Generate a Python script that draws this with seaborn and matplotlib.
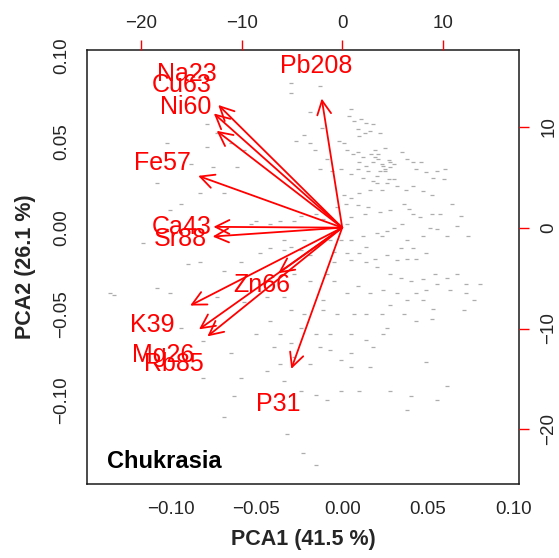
import numpy as np
import matplotlib
matplotlib.use('Agg')
import matplotlib.pyplot as plt
import seaborn as sns

#### DATA

# sample scores (PCA1, PCA2)
pc1 = [-0.030, -0.013, -0.030, -0.012, -0.019, 0.005, 0.004, 0.007, 0.011, 0.014,
       0.018, 0.009, 0.013, 0.016, 0.022, 0.010, -0.027, -0.022, -0.019, -0.016,
       -0.009, -0.002, 0.001, 0.003, 0.006, 0.009, 0.012, 0.019, 0.021, 0.025,
       0.010, 0.014, 0.018, 0.023, 0.028, 0.035, 0.038, 0.041, 0.046, 0.043,
       0.049, 0.055, 0.060, 0.053, 0.059, -0.013, -0.006, -0.001, 0.005, 0.009,
       0.012, 0.015, 0.020, 0.025, 0.028, 0.030, 0.026, 0.020, 0.018, 0.023,
       0.027, 0.032, 0.037, 0.041, 0.047, 0.052, 0.016, 0.010, 0.005, 0.001,
       -0.003, 0.002, 0.009, 0.015, 0.022, 0.028, 0.036, 0.039, 0.041, 0.045,
       0.052, 0.057, 0.064, 0.069, 0.067, 0.073, 0.051, 0.055, 0.061, 0.047,
       0.038, 0.035, 0.030, 0.026, 0.020, 0.013, 0.005, 0.003, -0.011, -0.015,
       -0.024, -0.028, -0.036, -0.042, -0.053, -0.050, -0.034, -0.022, -0.030, -0.007,
       -0.001, 0.005, 0.012, 0.014, 0.023, 0.034, 0.041, 0.043, 0.049, 0.038,
       0.032, 0.026, 0.019, 0.010, 0.003, -0.005, -0.019, -0.024, -0.034, -0.042,
       -0.048, -0.005, 0.005, 0.014, 0.020, 0.028, 0.034, 0.040, 0.047, 0.054,
       0.061, 0.067, 0.072, 0.080, 0.072, 0.077, 0.071, 0.055, 0.063, 0.049,
       0.043, 0.038, 0.032, 0.028, 0.053, 0.047, 0.024, 0.016, 0.009, 0.003,
       -0.005, -0.009, -0.011, -0.019, -0.028, -0.034, -0.042, -0.048, -0.044, -0.034,
       -0.030, -0.022, -0.011, -0.003, 0.007, 0.014, 0.023, 0.026, 0.036, 0.043,
       0.052, 0.024, 0.014, 0.005, -0.007, -0.015, -0.024, -0.036, -0.042, -0.050,
       -0.040, -0.030, -0.013, -0.007, 0.005, 0.018, 0.016, 0.005, -0.001, -0.019,
       -0.028, -0.036, -0.044, -0.034, -0.024, -0.015, -0.009, -0.001, 0.010, 0.028,
       0.040, 0.049, 0.061, 0.055, 0.038,
       -0.079, -0.073, -0.065, -0.057, -0.079, -0.102, -0.088, -0.075, -0.061, -0.108,
       -0.094, -0.100, -0.083, -0.069,
       -0.116, -0.090, -0.083, -0.069, -0.059, -0.135, -0.133, -0.108, -0.100, -0.073,
       -0.057, -0.094, -0.081, -0.065, -0.059, -0.063, -0.069, -0.081, -0.032, -0.023,
       -0.015,
       0.021, 0.024, 0.027, 0.019, 0.025, 0.030, 0.017, 0.022]
pc2 = [0.084, 0.082, 0.078, 0.058, 0.067, 0.069, 0.065, 0.062, 0.063, 0.061,
       0.060, 0.057, 0.055, 0.056, 0.055, 0.053, 0.050, 0.054, 0.049, 0.045,
       0.040, 0.050, 0.049, 0.045, 0.043, 0.044, 0.041, 0.045, 0.043, 0.046,
       0.038, 0.036, 0.038, 0.037, 0.038, 0.044, 0.040, 0.038, 0.038, 0.034,
       0.032, 0.033, 0.034, 0.029, 0.028, 0.034, 0.033, 0.034, 0.031, 0.034,
       0.029, 0.033, 0.030, 0.033, 0.035, 0.028, 0.026, 0.026, 0.027, 0.022,
       0.028, 0.024, 0.022, 0.024, 0.021, 0.019, 0.022, 0.020, 0.017, 0.019,
       0.012, 0.014, 0.013, 0.012, 0.009, 0.010, 0.014, 0.011, 0.008, 0.006,
       0.008, 0.008, 0.014, 0.007, 0.001, -0.005, 0.000, -0.001, -0.005, -0.005,
       -0.007, 0.002, 0.000, -0.002, -0.003, 0.008, 0.006, 0.002, 0.005, 0.008,
       0.007, 0.004, 0.004, 0.002, 0.002, 0.004, -0.007, -0.007, -0.011, -0.007,
       -0.007, -0.007, -0.005, -0.011, -0.005, -0.012, -0.012, -0.018, -0.015, -0.018,
       -0.019, -0.016, -0.018, -0.015, -0.015, -0.014, -0.016, -0.013, -0.013, -0.012,
       -0.015, -0.020, -0.019, -0.020, -0.023, -0.027, -0.029, -0.031, -0.030, -0.027,
       -0.029, -0.027, -0.033, -0.033, -0.038, -0.042, -0.048, -0.033, -0.036, -0.036,
       -0.038, -0.042, -0.038, -0.045, -0.047, -0.042, -0.036, -0.038, -0.034, -0.038,
       -0.031, -0.027, -0.042, -0.031, -0.027, -0.031, -0.029, -0.033, -0.040, -0.040,
       -0.048, -0.050, -0.048, -0.050, -0.050, -0.050, -0.050, -0.058, -0.050, -0.054,
       -0.053, -0.062, -0.065, -0.062, -0.062, -0.062, -0.058, -0.062, -0.054, -0.062,
       -0.069, -0.067, -0.069, -0.071, -0.073, -0.069, -0.081, -0.081, -0.077, -0.079,
       -0.075, -0.079, -0.083, -0.089, -0.095, -0.097, -0.100, -0.095, -0.095, -0.095,
       -0.098, -0.078, -0.092, -0.100, -0.106,
       0.060, 0.055, 0.049, 0.045, 0.047, 0.049, 0.037, 0.035, 0.035, 0.026,
       0.014, 0.010, 0.020, 0.020,
       -0.009, -0.021, -0.020, -0.025, -0.020, -0.038, -0.039, -0.035, -0.038, -0.040,
       -0.043, -0.058, -0.066, -0.073, -0.087, -0.098, -0.110, -0.087, -0.120, -0.131,
       -0.138,
       0.040, 0.036, 0.039, 0.041, 0.034, 0.037, 0.043, 0.033]

# variable loadings (secondary axes); arrows go to 0.8 x loading as in R biplot
variables = ['Na23', 'Cu63', 'Ni60', 'Pb208', 'Fe57', 'Ca43', 'Sr88', 'Zn66',
             'K39', 'Mg26', 'Rb85', 'P31']
load1 = [-15.4, -15.95, -15.6, -2.55, -17.9, -16.0, -16.1, -7.95, -18.9, -17.8, -16.75, -6.33]
load2 = [15.2, 14.15, 12.0, 16.0, 6.42, 0.1, -1.1, -5.65, -9.65, -12.6, -13.47, -17.5]

pct1 = 41.5
pct2 = 26.1
species = 'Chukrasia'

lim1 = (-0.1488, 0.1031)
lim2 = (-25.41, 17.61)

#### PLOT

sns.set_style("white")
plt.rcParams['font.family'] = ['Liberation Sans', 'DejaVu Sans']

fig = plt.figure(figsize=(5.59, 5.58), dpi=100)
pos = [0.155, 0.1326, 0.774, 0.7778]
ax = fig.add_axes(pos)

sns.scatterplot(x=pc1, y=pc2, ax=ax, marker='_', s=9, color='0.6', linewidth=0.9, alpha=0.8)

ax.set_xlim(*lim1)
ax.set_ylim(*lim1)
ax.set_xticks([-0.10, -0.05, 0.00, 0.05, 0.10])
ax.set_yticks([-0.10, -0.05, 0.00, 0.05, 0.10])
ax.set_xticklabels(['\u22120.10', '\u22120.05', '0.00', '0.05', '0.10'])
ax.set_yticklabels(['\u22120.10', '\u22120.05', '0.00', '0.05', '0.10'], rotation=90, va='center')
ax.tick_params(direction='out', length=7, width=1, labelsize=13.5, color='0.15', pad=5)
ax.tick_params(axis='y', pad=5)
for s in ax.spines.values():
    s.set_linewidth(1.1)
    s.set_color('0.1')
ax.set_xlabel(f'PCA1 ({pct1} %)', fontsize=15.5, fontweight='bold', labelpad=8)
ax.set_ylabel(f'PCA2 ({pct2} %)', fontsize=15.5, fontweight='bold', labelpad=12)

ax.text(0.046, 0.052, species, transform=ax.transAxes, fontsize=17, fontweight='bold',
        ha='left', va='center', color='black')

# secondary axes for loadings
ax2 = fig.add_axes(pos, frameon=False)
ax2.patch.set_alpha(0)
ax2.set_xlim(*lim2)
ax2.set_ylim(*lim2)
ax2.xaxis.tick_top()
ax2.yaxis.tick_right()
ax2.set_xticks([-20, -10, 0, 10])
ax2.set_yticks([-20, -10, 0, 10])
ax2.set_xticklabels(['\u221220', '\u221210', '0', '10'])
ax2.set_yticklabels(['\u221220', '\u221210', '0', '10'], rotation=90, va='center')
ax2.tick_params(direction='out', length=7, width=1, labelsize=13.5, color='red', pad=6)
ax2.tick_params(axis='y', pad=8)

for name, a, b in zip(variables, load1, load2):
    ax2.annotate('', xy=(0.8 * a, 0.8 * b), xytext=(0, 0),
                 arrowprops=dict(arrowstyle='->,head_length=1.0,head_width=0.5',
                                 color='red', lw=1.3, shrinkA=0, shrinkB=0,
                                 mutation_scale=10))
    ax2.text(a, b, name, color='red', fontsize=18, ha='center', va='center')

plt.savefig('out.png', dpi=100)
